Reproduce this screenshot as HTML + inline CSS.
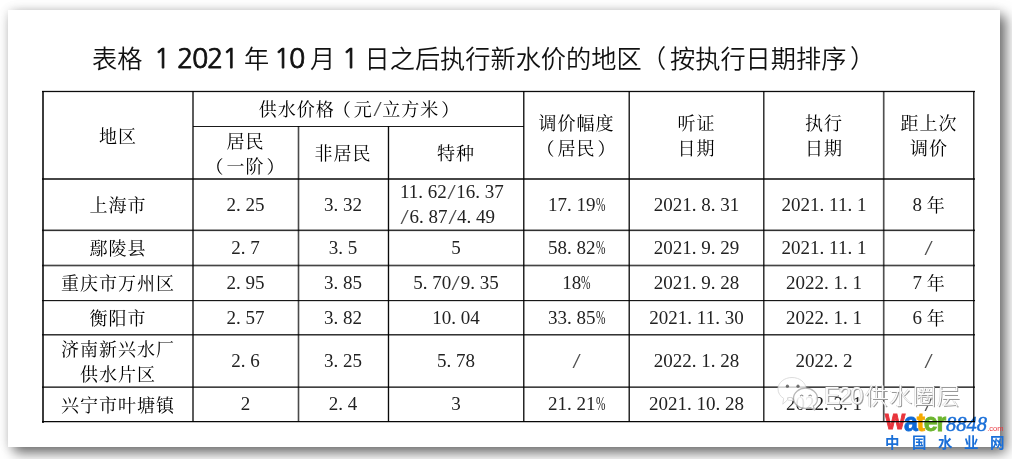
<!DOCTYPE html>
<html lang="zh-CN"><head><meta charset="utf-8"><title>表格</title>
<style>
html,body{margin:0;padding:0;background:#fff;}
body{width:1013px;height:459px;position:relative;overflow:hidden;}
#page{position:absolute;left:8px;top:10px;width:992px;height:437px;background:#fff;
 box-shadow:0 0 10px rgba(0,0,0,.12),6px 6px 12px rgba(0,0,0,.55);}
#grid{position:absolute;left:0;top:0;}
#edge{position:absolute;left:1012px;top:0;width:1px;height:459px;background:#fff;}
.t{position:absolute;left:0;top:40px;white-space:nowrap;font-family:"Liberation Sans","Noto Sans CJK SC",sans-serif;font-size:25.2px;font-weight:350;color:#111;line-height:38px;}
.t span{position:absolute;top:0;}
.t .d{font-family:"NanumGothic","Liberation Sans",sans-serif;font-size:27px;letter-spacing:-1.3px;top:0px;-webkit-text-stroke:.75px #111;}
.c{position:absolute;display:flex;align-items:center;justify-content:center;text-align:center;
 font-family:"Noto Serif CJK SC",serif;font-weight:400;font-size:18px;letter-spacing:1px;line-height:25px;color:#000;}
.h{font-family:"Liberation Serif",serif;font-weight:400;color:#222;letter-spacing:0;font-size:19px;line-height:1;position:relative;top:-1.3px;}
.h span{line-height:1;}
.h i{font-style:normal;display:inline-block;}
.sl{display:inline-block;width:.5em;text-align:center;color:#505050;}
.sl i{transform:scale(1.55,1.08);}
.pc{display:inline-block;width:.5em;text-align:center;}
.pc i{transform:scaleX(.6);transform-origin:0 50%;}
.g{margin-right:.25em;}
.pd{display:inline-block;width:.5em;text-align:left;}
.lp{position:relative;left:-2px;}
.rp{position:relative;left:2px;}
#logo span{position:absolute;white-space:nowrap;line-height:1;}
#logo .lw{font:bold 21.5px "Liberation Sans",sans-serif;-webkit-text-stroke:.9px #e8343c;}
#logo .la{font:bold 25px "Liberation Sans",sans-serif;letter-spacing:-1.2px;}
#logo .la b{font-weight:bold;-webkit-text-stroke:.8px currentColor;}
#logo .l8{font:italic 20.5px "Liberation Serif",serif;color:#1a6fd8;-webkit-text-stroke:.45px #1a6fd8;}
#logo .lc{font:7.5px "Liberation Sans",sans-serif;color:#e8343c;}
#logo .lz{font:bold 14.5px "Noto Sans CJK SC",sans-serif;color:#1a6fd8;}
#wm{position:absolute;left:0;top:0;}
.wt{position:absolute;white-space:nowrap;font:300 23px "Liberation Sans","Noto Sans CJK SC",sans-serif;letter-spacing:1px;line-height:1;color:rgba(255,255,255,.92);text-shadow:1px 1px 0 #999,-0.5px -0.5px 0 #ccc;}
.c.l{justify-content:flex-start;text-align:left;}
.c.l>span{padding-left:12px;}
</style></head><body>
<div id="page"></div><div id="edge"></div>
<div class="t"><span style="left:92px">表格 </span><span class="d" style="left:154px">1</span><span class="d" style="left:177px">2021</span><span style="left:244px">年 </span><span class="d" style="left:274px">10</span><span style="left:310px">月 </span><span class="d" style="left:342px">1</span><span style="left:364.5px">日之后执行新水价的地区</span><span style="left:641px">（</span><span style="left:670px">按执行日期排序</span><span style="left:850px">）</span></div>
<div id="logo">
<span class="lw" style="left:885px;top:409.5px;color:#e8343c">W</span><span class="la" style="left:904px;top:407.5px"><b style="color:#0d68d6">a</b><b style="color:#f5a900">t</b><b style="color:#6cb52d">er</b></span>
<span class="l8" style="left:946px;top:413px">8848</span><span class="lc" style="left:987.2px;top:423.5px">.com</span>
<span class="lz" style="left:885px;top:430.5px">中</span><span class="lz" style="left:912px;top:430.5px">国</span><span class="lz" style="left:938px;top:430.5px">水</span><span class="lz" style="left:964px;top:430.5px">业</span><span class="lz" style="left:990px;top:430.5px">网</span>
</div>
<svg id="grid" width="1013" height="459" shape-rendering="crispEdges"><style>rect{mix-blend-mode:multiply}</style>
<rect x="882" y="91" width="1" height="331" fill="#e8e8e8"/>
<rect x="42" y="231" width="933" height="1" fill="#e6e6e6"/>
<rect x="42" y="92" width="933" height="1" fill="#e0e0e0"/>
<rect x="42" y="90" width="933" height="1" fill="#d8d8d8"/>
<rect x="42" y="301" width="933" height="1" fill="#d8d8d8"/>
<rect x="389" y="126" width="1" height="296" fill="#d8d8d8"/>
<rect x="387" y="126" width="1" height="296" fill="#d0d0d0"/>
<rect x="297" y="126" width="1" height="296" fill="#c8c8c8"/>
<rect x="299" y="126" width="1" height="296" fill="#c8c8c8"/>
<rect x="42" y="264" width="933" height="1" fill="#c0c0c0"/>
<rect x="42" y="266" width="933" height="1" fill="#c0c0c0"/>
<rect x="42" y="422" width="933" height="1" fill="#c0c0c0"/>
<rect x="42" y="229" width="933" height="1" fill="#a0a0a0"/>
<rect x="884" y="91" width="1" height="331" fill="#a0a0a0"/>
<rect x="42" y="335" width="933" height="1" fill="#909090"/>
<rect x="524" y="91" width="1" height="331" fill="#909090"/>
<rect x="628" y="91" width="1" height="331" fill="#909090"/>
<rect x="764" y="91" width="1" height="331" fill="#909090"/>
<rect x="974" y="91" width="1" height="331" fill="#909090"/>
<rect x="42" y="386" width="933" height="1" fill="#808080"/>
<rect x="192" y="91" width="1" height="331" fill="#5c5c5c"/>
<rect x="193" y="91" width="1" height="331" fill="#5c5c5c"/>
<rect x="883" y="91" width="1" height="331" fill="#505050"/>
<rect x="298" y="126" width="1" height="296" fill="#4a4a4a"/>
<rect x="42" y="178" width="933" height="1" fill="#464646"/>
<rect x="42" y="179" width="933" height="1" fill="#464646"/>
<rect x="42" y="265" width="933" height="1" fill="#444444"/>
<rect x="42" y="387" width="933" height="1" fill="#404040"/>
<rect x="42" y="91" width="1" height="332" fill="#3c3c3c"/>
<rect x="43" y="91" width="1" height="332" fill="#3c3c3c"/>
<rect x="763" y="91" width="1" height="331" fill="#363636"/>
<rect x="42" y="334" width="933" height="1" fill="#343434"/>
<rect x="42" y="230" width="933" height="1" fill="#303030"/>
<rect x="629" y="91" width="1" height="331" fill="#2c2c2c"/>
<rect x="973" y="91" width="1" height="331" fill="#282828"/>
<rect x="523" y="91" width="1" height="331" fill="#262626"/>
<rect x="193" y="126" width="331" height="1" fill="#1a1a1a"/>
<rect x="42" y="300" width="933" height="1" fill="#181818"/>
<rect x="42" y="91" width="933" height="1" fill="#0c0c0c"/>
<rect x="388" y="126" width="1" height="296" fill="#0a0a0a"/>
<rect x="42" y="421" width="933" height="1" fill="#080808"/>
</svg>
<div class="c" style="left:43px;top:91px;width:150px;height:88px"><span>地区</span></div>
<div class="c" style="left:193px;top:91px;width:331px;height:35px"><span>供水价格<span class="lp">（</span>元<span class="h"><span class="sl"><i>/</i></span></span>立方米<span class="rp">）</span></span></div>
<div class="c" style="left:193px;top:126px;width:105px;height:53px"><span>居民<br><span class="lp">（</span>一阶<span class="rp">）</span></span></div>
<div class="c" style="left:298px;top:126px;width:90px;height:53px"><span>非居民</span></div>
<div class="c" style="left:388px;top:126px;width:136px;height:53px"><span>特种</span></div>
<div class="c" style="left:524px;top:91px;width:105px;height:88px"><span>调价幅度<br><span class="lp">（</span>居民<span class="rp">）</span></span></div>
<div class="c" style="left:629px;top:91px;width:135px;height:88px"><span>听证<br>日期</span></div>
<div class="c" style="left:764px;top:91px;width:120px;height:88px"><span>执行<br>日期</span></div>
<div class="c" style="left:884px;top:91px;width:90px;height:88px"><span>距上次<br>调价</span></div>
<div class="c" style="left:43px;top:179px;width:150px;height:51px"><span>上海市</span></div>
<div class="c" style="left:193px;top:179px;width:105px;height:51px"><span><span class="h">2<span class="pd">.</span>25</span></span></div>
<div class="c" style="left:298px;top:179px;width:90px;height:51px"><span><span class="h">3<span class="pd">.</span>32</span></span></div>
<div class="c l" style="left:388px;top:179px;width:136px;height:51px"><span><span class="h">11<span class="pd">.</span>62<span class="sl"><i>/</i></span>16<span class="pd">.</span>37</span><br><span class="h"><span class="sl"><i>/</i></span>6<span class="pd">.</span>87<span class="sl"><i>/</i></span>4<span class="pd">.</span>49</span></span></div>
<div class="c" style="left:524px;top:179px;width:105px;height:51px"><span><span class="h">17<span class="pd">.</span>19<span class="pc"><i>%</i></span></span></span></div>
<div class="c" style="left:629px;top:179px;width:135px;height:51px"><span><span class="h">2021<span class="pd">.</span>8<span class="pd">.</span>31</span></span></div>
<div class="c" style="left:764px;top:179px;width:120px;height:51px"><span><span class="h">2021<span class="pd">.</span>11<span class="pd">.</span>1</span></span></div>
<div class="c" style="left:884px;top:179px;width:90px;height:51px"><span><span class="h g">8</span>年</span></div>
<div class="c" style="left:43px;top:230px;width:150px;height:35px"><span>鄢陵县</span></div>
<div class="c" style="left:193px;top:230px;width:105px;height:35px"><span><span class="h">2<span class="pd">.</span>7</span></span></div>
<div class="c" style="left:298px;top:230px;width:90px;height:35px"><span><span class="h">3<span class="pd">.</span>5</span></span></div>
<div class="c" style="left:388px;top:230px;width:136px;height:35px"><span><span class="h">5</span></span></div>
<div class="c" style="left:524px;top:230px;width:105px;height:35px"><span><span class="h">58<span class="pd">.</span>82<span class="pc"><i>%</i></span></span></span></div>
<div class="c" style="left:629px;top:230px;width:135px;height:35px"><span><span class="h">2021<span class="pd">.</span>9<span class="pd">.</span>29</span></span></div>
<div class="c" style="left:764px;top:230px;width:120px;height:35px"><span><span class="h">2021<span class="pd">.</span>11<span class="pd">.</span>1</span></span></div>
<div class="c" style="left:884px;top:230px;width:90px;height:35px"><span><span class="h"><span class="sl"><i>/</i></span></span></span></div>
<div class="c" style="left:43px;top:265px;width:150px;height:35px"><span>重庆市万州区</span></div>
<div class="c" style="left:193px;top:265px;width:105px;height:35px"><span><span class="h">2<span class="pd">.</span>95</span></span></div>
<div class="c" style="left:298px;top:265px;width:90px;height:35px"><span><span class="h">3<span class="pd">.</span>85</span></span></div>
<div class="c" style="left:388px;top:265px;width:136px;height:35px"><span><span class="h">5<span class="pd">.</span>70<span class="sl"><i>/</i></span>9<span class="pd">.</span>35</span></span></div>
<div class="c" style="left:524px;top:265px;width:105px;height:35px"><span><span class="h">18<span class="pc"><i>%</i></span></span></span></div>
<div class="c" style="left:629px;top:265px;width:135px;height:35px"><span><span class="h">2021<span class="pd">.</span>9<span class="pd">.</span>28</span></span></div>
<div class="c" style="left:764px;top:265px;width:120px;height:35px"><span><span class="h">2022<span class="pd">.</span>1<span class="pd">.</span>1</span></span></div>
<div class="c" style="left:884px;top:265px;width:90px;height:35px"><span><span class="h g">7</span>年</span></div>
<div class="c" style="left:43px;top:300px;width:150px;height:35px"><span>衡阳市</span></div>
<div class="c" style="left:193px;top:300px;width:105px;height:35px"><span><span class="h">2<span class="pd">.</span>57</span></span></div>
<div class="c" style="left:298px;top:300px;width:90px;height:35px"><span><span class="h">3<span class="pd">.</span>82</span></span></div>
<div class="c" style="left:388px;top:300px;width:136px;height:35px"><span><span class="h">10<span class="pd">.</span>04</span></span></div>
<div class="c" style="left:524px;top:300px;width:105px;height:35px"><span><span class="h">33<span class="pd">.</span>85<span class="pc"><i>%</i></span></span></span></div>
<div class="c" style="left:629px;top:300px;width:135px;height:35px"><span><span class="h">2021<span class="pd">.</span>11<span class="pd">.</span>30</span></span></div>
<div class="c" style="left:764px;top:300px;width:120px;height:35px"><span><span class="h">2022<span class="pd">.</span>1<span class="pd">.</span>1</span></span></div>
<div class="c" style="left:884px;top:300px;width:90px;height:35px"><span><span class="h g">6</span>年</span></div>
<div class="c" style="left:43px;top:335px;width:150px;height:52px"><span>济南新兴水厂<br>供水片区</span></div>
<div class="c" style="left:193px;top:335px;width:105px;height:52px"><span><span class="h">2<span class="pd">.</span>6</span></span></div>
<div class="c" style="left:298px;top:335px;width:90px;height:52px"><span><span class="h">3<span class="pd">.</span>25</span></span></div>
<div class="c" style="left:388px;top:335px;width:136px;height:52px"><span><span class="h">5<span class="pd">.</span>78</span></span></div>
<div class="c" style="left:524px;top:335px;width:105px;height:52px"><span><span class="h"><span class="sl"><i>/</i></span></span></span></div>
<div class="c" style="left:629px;top:335px;width:135px;height:52px"><span><span class="h">2022<span class="pd">.</span>1<span class="pd">.</span>28</span></span></div>
<div class="c" style="left:764px;top:335px;width:120px;height:52px"><span><span class="h">2022<span class="pd">.</span>2</span></span></div>
<div class="c" style="left:884px;top:335px;width:90px;height:52px"><span><span class="h"><span class="sl"><i>/</i></span></span></span></div>
<div class="c" style="left:43px;top:387px;width:150px;height:34px"><span>兴宁市叶塘镇</span></div>
<div class="c" style="left:193px;top:387px;width:105px;height:34px"><span><span class="h">2</span></span></div>
<div class="c" style="left:298px;top:387px;width:90px;height:34px"><span><span class="h">2<span class="pd">.</span>4</span></span></div>
<div class="c" style="left:388px;top:387px;width:136px;height:34px"><span><span class="h">3</span></span></div>
<div class="c" style="left:524px;top:387px;width:105px;height:34px"><span><span class="h">21<span class="pd">.</span>21<span class="pc"><i>%</i></span></span></span></div>
<div class="c" style="left:629px;top:387px;width:135px;height:34px"><span><span class="h">2021<span class="pd">.</span>10<span class="pd">.</span>28</span></span></div>
<div class="c" style="left:764px;top:387px;width:120px;height:34px"><span><span class="h">2022<span class="pd">.</span>3<span class="pd">.</span>1</span></span></div>
<div class="c" style="left:884px;top:387px;width:90px;height:34px"><span><span class="h"><span class="sl"><i>/</i></span></span></span></div>
<svg id="wm" width="1013" height="459">
 <g opacity=".9">
 <path d="M792 377.5c7.7 0 14 5.1 14 11.5s-6.3 11.5-14 11.5c-1.6 0-3.2-.2-4.6-.6l-4.6 4.3 .8-5.8c-3.5-2.1-5.6-5.6-5.6-9.4 0-6.4 6.3-11.5 14-11.5z" fill="#fff" fill-opacity=".85" stroke="#d8d8d8" stroke-width="1"/>
 <circle cx="787.4" cy="386.2" r="1.6" fill="#666"/><circle cx="798" cy="386.2" r="1.6" fill="#666"/>
 <path d="M805.5 388.2c6.7 0 12 4.6 12 10.2 0 3.1-1.6 5.8-4.1 7.7l.9 3.6-3.9-2.1c-1.5 .5-3.2 .8-4.9 .8-6.7 0-12-4.6-12-10.1s5.3-10.1 12-10.1z" fill="#fff" fill-opacity=".97" stroke="#b0b0b0" stroke-width="1.3"/>
 <path d="M800.2 396.3q1.5-2.6 3 0M808.6 396.3q1.5-2.6 3 0" fill="none" stroke="#777" stroke-width="1.1"/>
 </g>
</svg>
<div class="wt" style="left:824px;top:384px;letter-spacing:-1.5px;font-size:24px">E20</div><div class="wt" style="left:865px;top:385px">供水圈层</div>
</body></html>
